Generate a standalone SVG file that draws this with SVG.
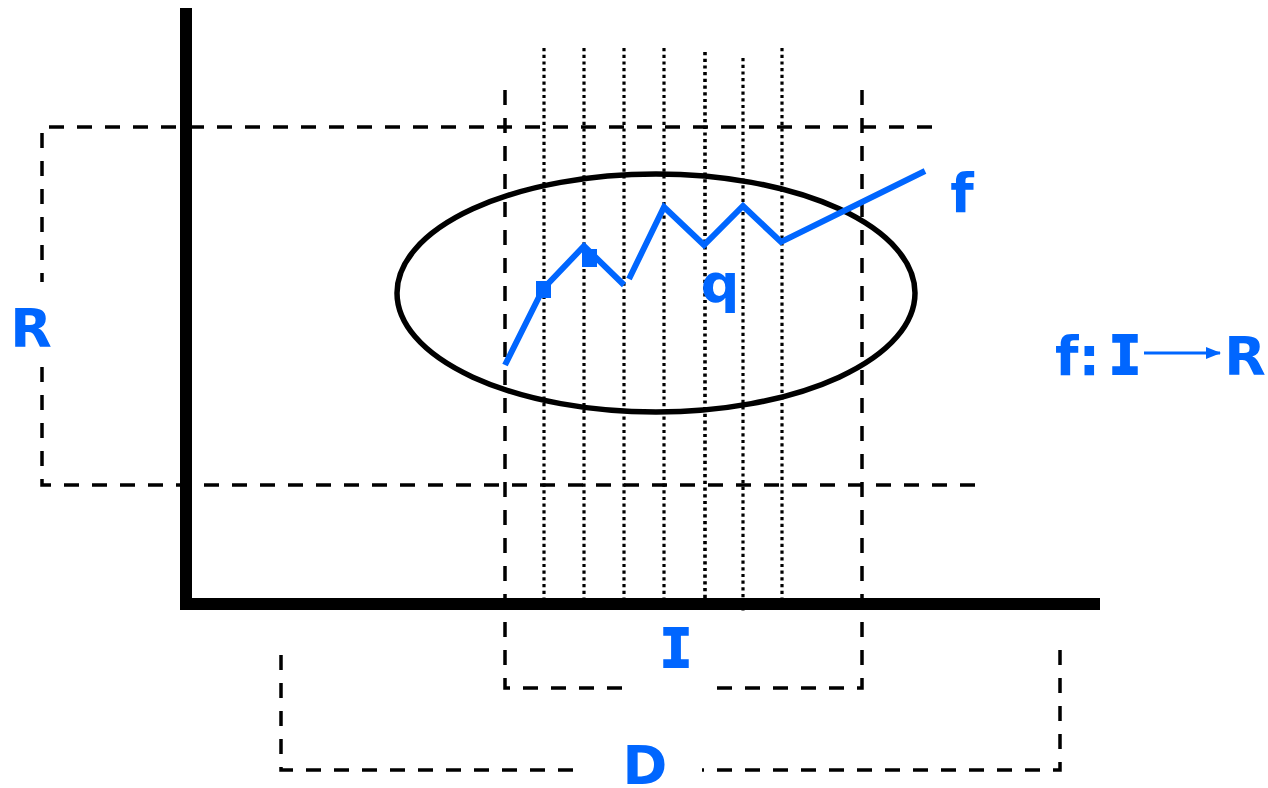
<svg xmlns="http://www.w3.org/2000/svg" width="1268" height="788" viewBox="0 0 1268 788">
<defs>
<style>
.axis{stroke:#000;stroke-width:12;fill:none}
.dash{stroke:#000;stroke-width:3.5;fill:none;stroke-dasharray:15 13}
.dot{stroke:#000;stroke-width:3.2;fill:none;stroke-dasharray:3.2 3.5}
.blue{stroke:#0066FF;stroke-width:6;fill:none;stroke-linejoin:miter}
.lbl{font-family:"DejaVu Sans",Verdana,sans-serif;font-weight:bold;font-size:54px;fill:#0066FF}
.ser{font-family:"DejaVu Sans Mono","Liberation Mono",monospace;stroke:#0066FF;stroke-width:2}
</style>
<marker id="ah" markerWidth="16" markerHeight="12" refX="14" refY="6" orient="auto" markerUnits="userSpaceOnUse">
<path d="M0,0 L15,6 L0,12 Z" fill="#0066FF"/>
</marker>
</defs>
<rect width="1268" height="788" fill="#fff"/>
<g id="axes">
<line class="axis" x1="186" y1="8" x2="186" y2="610"/>
<line class="axis" x1="180" y1="604" x2="1100" y2="604"/>
</g>
<g id="range-bracket">
<path class="dash" d="M932,127 H42 V282"/>
<path class="dash" d="M42,367 V485 H982"/>
<text class="lbl" x="31" y="347" text-anchor="middle">R</text>
</g>
<g id="interval-bracket">
<path class="dash" d="M505,90 V688 H623"/>
<path class="dash" d="M862,90 V688 H707"/>
<text class="lbl ser" x="676" y="667" text-anchor="middle">I</text>
</g>
<g id="domain-bracket">
<path class="dash" d="M281,655 V770 H575"/>
<path class="dash" d="M1060,650 V770 H702"/>
<text class="lbl" x="645" y="784" text-anchor="middle">D</text>
</g>
<g id="samples">
<line class="dot" x1="544" y1="48" x2="544" y2="598"/>
<line class="dot" x1="584" y1="48" x2="584" y2="598"/>
<line class="dot" x1="624" y1="48" x2="624" y2="598"/>
<line class="dot" x1="664" y1="48" x2="664" y2="598"/>
<line class="dot" x1="705" y1="52" x2="705" y2="598" style="stroke-width:3.6"/>
<line class="dot" x1="743" y1="58" x2="743" y2="614"/>
<line class="dot" x1="782" y1="48" x2="782" y2="598"/>
</g>
<g id="neighbourhood">
<ellipse cx="656" cy="293" rx="259" ry="119" fill="none" stroke="#000" stroke-width="5.5"/>
</g>
<g id="function-f">
<polyline class="blue" points="505,365 543,289 584,246 624,285"/>
<polyline class="blue" points="629,279 664,207 704,245 743,206 781,242 925,171"/>
<rect x="536" y="281" width="15" height="17" fill="#0066FF"/>
<rect x="582" y="249" width="15" height="18" fill="#0066FF"/>
<text class="lbl" x="962" y="212" text-anchor="middle">f</text>
<text class="lbl" x="720" y="302" text-anchor="middle">q</text>
</g>
<g id="mapping-label">
<text class="lbl" x="1055" y="375">f:</text>
<text class="lbl ser" x="1125" y="374" text-anchor="middle">I</text>
<line x1="1144" y1="353" x2="1220" y2="353" stroke="#0066FF" stroke-width="3" marker-end="url(#ah)"/>
<text class="lbl" x="1245" y="375" text-anchor="middle">R</text>
</g>
</svg>
